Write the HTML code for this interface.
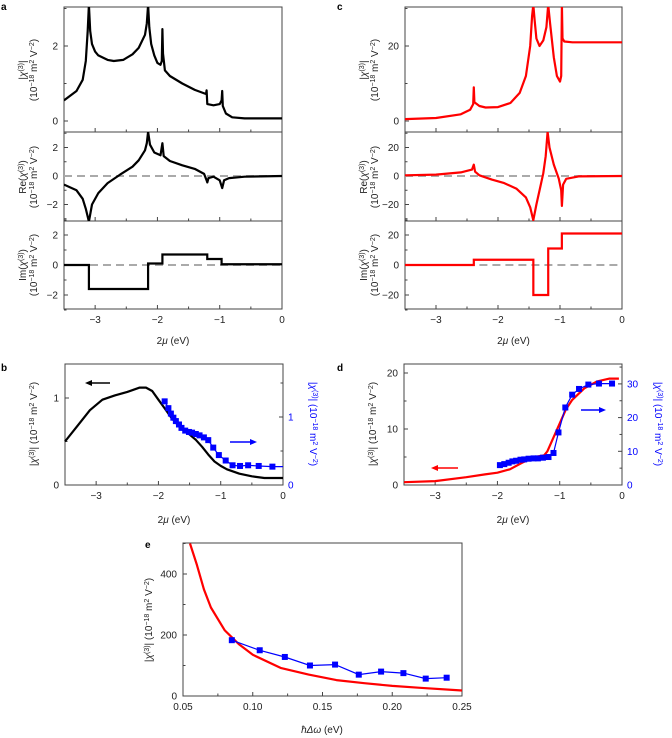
<!DOCTYPE html>
<html><head><meta charset="utf-8"><style>
body{margin:0;background:#fff}
svg{display:block;font-family:"Liberation Sans",sans-serif}
</style></head><body>
<svg id="fig" width="672" height="738" viewBox="0 0 672 738" xmlns="http://www.w3.org/2000/svg"></svg>
<script>
// ---------- data ----------
const aAbsX=[-3.5,-3.3,-3.2,-3.15,-3.12,-3.1,-3.08,-3.05,-3.0,-2.95,-2.8,-2.7,-2.55,-2.4,-2.3,-2.2,-2.17,-2.15,-2.13,-2.1,-2.05,-2.0,-1.95,-1.93,-1.92,-1.91,-1.88,-1.8,-1.6,-1.4,-1.22,-1.21,-1.2,-1.1,-1.0,-0.97,-0.96,-0.95,-0.9,-0.8,-0.6,0];
const aAbsY=[0.55,0.8,1.1,1.6,2.4,3.1,2.4,2.05,1.85,1.75,1.63,1.6,1.63,1.78,1.95,2.3,2.6,3.1,2.5,2.05,1.75,1.55,1.5,1.6,2.45,1.8,1.35,1.2,1.0,0.83,0.72,0.82,0.45,0.42,0.45,0.55,0.8,0.4,0.2,0.1,0.07,0.07];
const aReX=[-3.5,-3.3,-3.2,-3.15,-3.1,-3.05,-2.95,-2.8,-2.6,-2.4,-2.3,-2.2,-2.17,-2.15,-2.12,-2.05,-1.95,-1.92,-1.9,-1.8,-1.6,-1.4,-1.25,-1.21,-1.2,-1.18,-1.1,-1.0,-0.96,-0.93,-0.85,-0.6,0];
const aReY=[-0.6,-1.0,-1.6,-2.3,-3.2,-2.0,-1.2,-0.5,0.1,0.65,1.1,1.8,2.3,3.1,2.2,1.65,1.45,2.3,1.4,1.05,0.75,0.5,0.15,-0.3,-0.45,-0.15,-0.05,-0.3,-0.85,-0.3,-0.15,-0.05,0];
const aImEdges=[-3.5,-3.1,-2.15,-1.92,-1.2,-0.97,0];
const aImVals=[0,-1.6,0.1,0.7,0.4,0.05];
const cAbsX=[-3.5,-3,-2.6,-2.45,-2.4,-2.39,-2.38,-2.3,-2.2,-2.0,-1.8,-1.65,-1.55,-1.48,-1.45,-1.43,-1.41,-1.38,-1.33,-1.27,-1.22,-1.19,-1.16,-1.1,-1.05,-1.0,-0.98,-0.97,-0.96,-0.93,-0.8,0];
const cAbsY=[0.5,0.8,1.8,3,4.5,9,5,4,3.6,3.7,4.8,7.5,12,20,28,31,27,22,20,21.5,25,31,26,17,12,10.5,12,31,22,21.2,21,21];
const cReX=[-3.5,-3,-2.6,-2.42,-2.39,-2.37,-2.3,-2.1,-1.9,-1.7,-1.55,-1.48,-1.43,-1.38,-1.32,-1.27,-1.23,-1.2,-1.17,-1.1,-1.02,-0.98,-0.97,-0.95,-0.9,-0.7,0];
const cReY=[0.5,1,2.5,4.5,8,3,0.5,-2.5,-5,-9,-15,-22,-31,-20,-8,2,14,31,20,8,-2,-10,-21,-6,-2,-0.3,0];
const cImEdges=[-3.5,-2.39,-1.43,-1.19,-0.97,0];
const cImVals=[0,3.5,-20,11,21];
const bCalcX=[-3.5,-3.3,-3.1,-2.9,-2.7,-2.5,-2.3,-2.2,-2.1,-2.0,-1.9,-1.8,-1.7,-1.6,-1.5,-1.4,-1.3,-1.2,-1.1,-1.0,-0.9,-0.7,-0.5,-0.3,-0.1,0];
const bCalcY=[0.5,0.68,0.86,0.98,1.03,1.07,1.12,1.12,1.08,0.98,0.88,0.78,0.7,0.63,0.58,0.52,0.44,0.35,0.27,0.22,0.18,0.13,0.1,0.08,0.08,0.08];
const bExpX=[-1.90,-1.84,-1.80,-1.76,-1.72,-1.67,-1.63,-1.57,-1.51,-1.46,-1.40,-1.34,-1.27,-1.20,-1.12,-1.03,-0.92,-0.81,-0.69,-0.56,-0.39,-0.17];
const bExpY=[1.23,1.13,1.05,0.99,0.94,0.89,0.84,0.80,0.78,0.77,0.75,0.73,0.70,0.66,0.55,0.44,0.36,0.29,0.28,0.29,0.28,0.27];
const dCalcX=[-3.5,-3,-2.5,-2.2,-2.0,-1.8,-1.6,-1.4,-1.25,-1.2,-1.1,-1.0,-0.9,-0.8,-0.6,-0.4,-0.2,-0.05];
const dCalcY=[0.5,0.7,1.4,1.9,2.2,2.8,4.0,5.0,5.3,6,8.5,11,13.5,15.2,17.3,18.5,19,19];
const dExpX=[-1.96,-1.89,-1.82,-1.76,-1.70,-1.63,-1.57,-1.50,-1.42,-1.35,-1.27,-1.18,-1.10,-1.02,-0.91,-0.80,-0.69,-0.54,-0.37,-0.16];
const dExpY=[5.9,6.2,6.6,7.0,7.2,7.5,7.6,7.8,7.9,7.9,8.1,8.3,9.5,15.6,23.0,26.8,28.5,29.8,30.1,30.1];
const eCalcX=[0.055,0.06,0.065,0.07,0.08,0.09,0.1,0.12,0.14,0.16,0.18,0.2,0.22,0.25];
const eCalcY=[500,430,350,290,215,170,135,92,70,52,42,33,27,18];
const eExpX=[0.085,0.105,0.123,0.141,0.159,0.176,0.192,0.208,0.224,0.239];
const eExpY=[183,150,128,100,103,70,80,75,57,60];
const muTicks=[-3,-2,-1,0];
const muTickLabels=["\u22123","\u22122","\u22121","0"];
const eTicks=[0.05,0.10,0.15,0.20,0.25];
const eTickLabels=["0.05","0.10","0.15","0.20","0.25"];

// ---------- helpers ----------
const NS="http://www.w3.org/2000/svg";
const svg=document.getElementById('fig');
function el(tag,attrs,parent){const e=document.createElementNS(NS,tag);for(const k in attrs)e.setAttribute(k,attrs[k]);(parent||svg).appendChild(e);return e;}
function lin(d0,d1,p0,p1){return v=>p0+(v-d0)*(p1-p0)/(d1-d0);}
let clipId=0;
function clip(x,y,w,h){const id='c'+(clipId++);const cp=el('clipPath',{id:id});el('rect',{x:x,y:y,width:w,height:h},cp);return 'url(#'+id+')';}
function path(xs,ys,sx,sy){return xs.map((v,i)=>(i?'L':'M')+sx(v).toFixed(1)+','+sy(ys[i]).toFixed(1)).join('');}
function stepPath(edges,vals,sx,sy){let d='M'+sx(edges[0])+','+sy(vals[0]);for(let i=0;i<vals.length;i++){d+='L'+sx(edges[i+1])+','+sy(vals[i]);if(i+1<vals.length)d+='L'+sx(edges[i+1])+','+sy(vals[i+1]);}return d;}
function txt(x,y,s,opt){const t=el('text',Object.assign({x:x,y:y,'font-size':10,fill:'#222'},opt||{}));t.innerHTML=s;return t;}
function frame(x0,y0,x1,y1){const r=el('rect',{x:x0,y:y0,width:x1-x0,height:y1-y0,fill:'none',stroke:'#444','stroke-width':1});}
function yTicks(x0,sy,vals,labels,minor,side,color){vals.forEach((v,i)=>{const y=sy(v);el('line',{x1:x0,y1:y,x2:x0+(side>0?-4:4),y2:y,stroke:'#444'});if(labels[i]!==null){const t=txt(side>0?x0+5:x0-6,y+3.5,labels[i],{'text-anchor':side>0?'start':'end',fill:color||'#222'});}});(minor||[]).forEach(v=>{const y=sy(v);el('line',{x1:x0,y1:y,x2:x0+(side>0?-2.5:2.5),y2:y,stroke:'#444'});});}
function xTicks(y0,sx,vals,labels,minor,showLabels){vals.forEach((v,i)=>{const x=sx(v);el('line',{x1:x,y1:y0,x2:x,y2:y0-4,stroke:'#444'});if(showLabels){const t=txt(x,y0+14,labels[i],{'text-anchor':'middle'});}});(minor||[]).forEach(v=>{const x=sx(v);el('line',{x1:x,y1:y0,x2:x,y2:y0-2.5,stroke:'#444'});});}
const SUP=s=>'<tspan baseline-shift="super" font-size="7">'+s+'</tspan>';
const UNIT='(10'+SUP('\u221218')+' m'+SUP('2')+' V'+SUP('\u22122')+')';
function vlabel(x,y,html,name,color){const t=el('text',{x:0,y:0,'font-size':10,fill:color||'#222','text-anchor':'middle',transform:'translate('+x+','+y+') rotate(-90)'});t.innerHTML=html;return t;}
function vlabelR(x,y,html,name,color){const t=el('text',{x:0,y:0,'font-size':10,fill:color||'#222','text-anchor':'middle',transform:'translate('+x+','+y+') rotate(90)'});t.innerHTML=html;return t;}
function arrow(x1,x2,y,color,name){const g=el('g',{});el('line',{x1:x1,y1:y,x2:x2+(x2<x1?4:-4),y2:y,stroke:color,'stroke-width':1.5},g);const s=x2<x1?1:-1;el('path',{d:'M'+x2+','+y+'L'+(x2+7*s)+','+(y-3)+'L'+(x2+7*s)+','+(y+3)+'Z',fill:color},g);}
function panelLetter(x,y,s){const t=txt(x,y,s,{'font-weight':'bold','font-size':10,fill:'#000'});}
const muMinor=[-3.5,-2.5,-1.5,-0.5];
function chi(){return '|<tspan font-style="italic">χ</tspan>'+SUP('(3)')+'|';}

// ---------- panel a / c ----------
function stack(L,R,color,absX,absY,absD,reX,reY,reD,imE,imV,imD,ticksAbs,ticksRe,letter,dashImFrom){
  const sx=lin(-3.5,0,L,R);
  const ys=[7,132,221,309];
  const syA=lin(0,absD.step,121,46), syR=lin(0,reD.step,176,147.5), syI=lin(0,imD.step,265,235);
  [syA,syR,syI].forEach((sy,k)=>{
    frame(L,ys[k],R,ys[k+1]);
    xTicks(ys[k+1],sx,muTicks,muTickLabels,muMinor,k===2);
  });
  yTicks(L,syA,ticksAbs.v,ticksAbs.l,ticksAbs.m,-1);
  yTicks(L,syR,ticksRe.v,ticksRe.l,ticksRe.m,-1);
  yTicks(L,syI,ticksRe.v,ticksRe.l,ticksRe.m,-1);
  let z=el('line',{x1:L,x2:R,y1:syR(0),y2:syR(0),stroke:'#aaa','stroke-width':2,'stroke-dasharray':'8,5'});
  z=el('line',{x1:sx(dashImFrom),x2:R,y1:syI(0),y2:syI(0),stroke:'#aaa','stroke-width':2,'stroke-dasharray':'8,5'});
  let p=el('path',{d:path(absX,absY,sx,syA),fill:'none',stroke:color,'stroke-width':2.2,'stroke-linejoin':'round','clip-path':clip(L,7,R-L,125)});
  p=el('path',{d:path(reX,reY,sx,syR),fill:'none',stroke:color,'stroke-width':2.2,'stroke-linejoin':'round','clip-path':clip(L,132,R-L,89)});
  p=el('path',{d:stepPath(imE,imV,sx,syI),fill:'none',stroke:color,'stroke-width':2.2,'clip-path':clip(L,221,R-L,88)});
  const lx=L-38;
  vlabel(lx,70,chi(),'abs-y-label'); vlabel(lx+11,70,UNIT,'abs-y-unit');
  vlabel(lx,177,'Re(<tspan font-style="italic">χ</tspan>'+SUP('(3)')+')','re-y-label'); vlabel(lx+11,177,UNIT,'re-y-unit');
  vlabel(lx,265,'Im(<tspan font-style="italic">χ</tspan>'+SUP('(3)')+')','im-y-label'); vlabel(lx+11,265,UNIT,'im-y-unit');
  const t=txt((L+R)/2,344,'2<tspan font-style="italic">μ</tspan> (eV)',{'text-anchor':'middle'});
}
panelLetter(1,10,'a');
stack(64,282,'#000',aAbsX,aAbsY,{step:2},aReX,aReY,{step:2},aImEdges,aImVals,{step:2},
  {v:[0,2],l:['0','2'],m:[1,3]},{v:[-2,0,2],l:['\u22122','0','2'],m:[-3,-1,1,3]},'a',-3.5);
panelLetter(337,10,'c');
stack(405,622,'#f00',cAbsX,cAbsY,{step:20},cReX,cReY,{step:20},cImEdges,cImVals,{step:20},
  {v:[0,20],l:['0','20'],m:[10,30]},{v:[-20,0,20],l:['\u221220','0','20'],m:[-30,-10,10,30]},'c',-2.3);

// ---------- panel b ----------
(function(){
  const L=65,R=283,T=364,B=485;
  const sx=lin(-3.5,0,L,R), sy=lin(0,1,B,398), sy2=lin(0,1,B,417);
  panelLetter(1,371,'b');
  frame(L,T,R,B);
  xTicks(B,sx,muTicks,muTickLabels,muMinor,true);
  yTicks(L,sy,[0,1],['0','1'],[0.5],-1);
  yTicks(R,sy2,[0,1],['0','1'],[0.5,1.5],1,'#00f');
  let p=el('path',{d:path(bCalcX,bCalcY,sx,sy),fill:'none',stroke:'#000','stroke-width':2.2,'stroke-linejoin':'round'});
  p=el('path',{d:path(bExpX.concat([0]),bExpY.concat([bExpY[bExpY.length-1]]),sx,sy2),fill:'none',stroke:'#00f','stroke-width':1.2});
  bExpX.forEach((x,i)=>{const r=el('rect',{x:sx(x)-3,y:sy2(bExpY[i])-3,width:6,height:6,fill:'#00f'});});
  arrow(110,85,383,'#000','left-axis-arrow-b'); arrow(230,257,442,'#00f','right-axis-arrow-b');
  vlabel(37,424,chi()+' '+UNIT,'y-axis-title-left-b');
  vlabelR(310,424,chi()+' '+UNIT,'y-axis-title-right-b','#00f');
  const t=txt(174,523,'2<tspan font-style="italic">μ</tspan> (eV)',{'text-anchor':'middle'});
})();

// ---------- panel d ----------
(function(){
  const L=404,R=622,T=364,B=485;
  const sx=lin(-3.5,0,L,R), sy=lin(0,10,B,429), sy2=lin(0,10,B,451.3);
  panelLetter(337,371,'d');
  frame(L,T,R,B);
  xTicks(B,sx,muTicks,muTickLabels,muMinor,true);
  yTicks(L,sy,[0,10,20],['0','10','20'],[5,15],-1);
  yTicks(R,sy2,[0,10,20,30],['0','10','20','30'],[5,15,25,35],1,'#00f');
  let p=el('path',{d:path(dCalcX,dCalcY,sx,sy),fill:'none',stroke:'#f00','stroke-width':2.2,'stroke-linejoin':'round'});
  p=el('path',{d:path(dExpX,dExpY,sx,sy2),fill:'none',stroke:'#00f','stroke-width':1.2});
  dExpX.forEach((x,i)=>{const r=el('rect',{x:sx(x)-3,y:sy2(dExpY[i])-3,width:6,height:6,fill:'#00f'});});
  arrow(458,431,468,'#f00','left-axis-arrow-d'); arrow(581,606,410,'#00f','right-axis-arrow-d');
  vlabel(376,424,chi()+' '+UNIT,'y-axis-title-left-d');
  vlabelR(655,424,chi()+' '+UNIT,'y-axis-title-right-d','#00f');
  const t=txt(513,523,'2<tspan font-style="italic">μ</tspan> (eV)',{'text-anchor':'middle'});
})();

// ---------- panel e ----------
(function(){
  const L=183,R=462,T=543,B=696;
  const sx=lin(0.05,0.25,L,R), sy=lin(0,200,B,635);
  panelLetter(145,548,'e');
  frame(L,T,R,B);
  xTicks(B,sx,eTicks,eTickLabels,[0.075,0.125,0.175,0.225],true);
  yTicks(L,sy,[0,200,400],['0','200','400'],[100,300,500],-1);
  let p=el('path',{d:path(eCalcX,eCalcY,sx,sy),fill:'none',stroke:'#f00','stroke-width':2.2,'stroke-linejoin':'round','clip-path':clip(L,T,R-L,B-T)});
  p=el('path',{d:path(eExpX,eExpY,sx,sy),fill:'none',stroke:'#00f','stroke-width':1.2});
  eExpX.forEach((x,i)=>{const r=el('rect',{x:sx(x)-3,y:sy(eExpY[i])-3,width:6,height:6,fill:'#00f'});});
  vlabel(152,620,chi()+' '+UNIT,'y-axis-title-e');
  const t=txt(322,733,'<tspan font-style="italic">ħΔω</tspan> (eV)',{'text-anchor':'middle'});
})();
</script>
</body></html>
